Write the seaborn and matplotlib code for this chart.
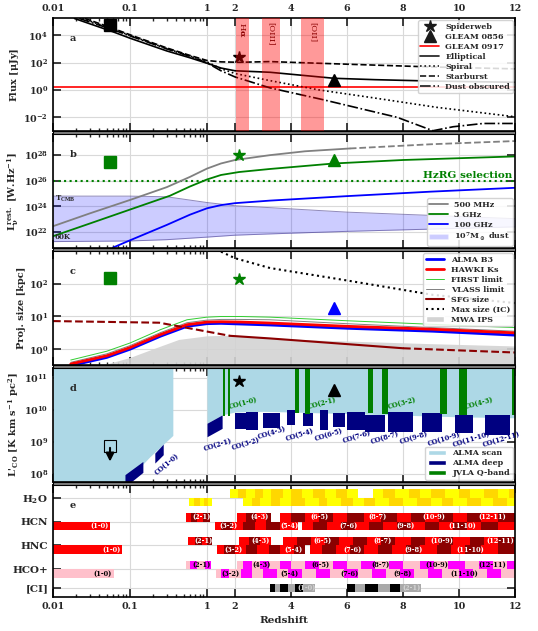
import numpy as np
import matplotlib
matplotlib.use('Agg')
import matplotlib.pyplot as plt
from matplotlib.patches import Patch, Rectangle
from matplotlib.lines import Line2D
import seaborn as sns

# ---------------- panel a : template fluxes (log10 uJy) ----------------
ell_z = [0.019, 0.06, 0.1, 0.3, 0.6, 1.0, 1.5, 2.0, 3.25, 4.5, 5.54, 7.0, 9.0, 12.0]
ell_f = [5.22, 4.25, 3.78, 2.85, 2.35, 1.95, 1.6, 1.4, 1.29, 1.05, 0.85, 0.75, 0.65, 0.56]
spi_z = [0.024, 0.06, 0.1, 0.3, 0.6, 1.0, 1.5, 2.0, 3.25, 5.0, 6.82, 9.2, 12.0]
spi_f = [5.22, 4.45, 3.98, 3.02, 2.48, 2.05, 1.55, 1.2, 0.68, 0.0, -0.54, -1.27, -1.96]
sb_z = [0.026, 0.06, 0.1, 0.3, 0.6, 1.0, 1.5, 2.16, 3.25, 6.0, 9.0, 12.0]
sb_f = [5.22, 4.5, 4.03, 3.07, 2.52, 2.15, 2.05, 2.02, 2.07, 1.88, 1.68, 1.54]
dust_z = [0.022, 0.06, 0.1, 0.3, 0.6, 1.0, 1.5, 2.0, 3.25, 5.14, 7.79, 9.07, 9.79, 10.86, 12.0]
dust_f = [5.22, 4.4, 3.95, 3.0, 2.45, 1.98, 1.4, 0.95, 0.15, -0.71, -2.0, -2.98, -2.69, -2.45, -2.45]
gleam0917_f = 0.22
lines_a = ['H$\\alpha$', '[OIII]', '[OII]']
lines_a_z = [(2.04, 2.5), (2.96, 3.6), (4.36, 5.18)]
# sources: square, Spiderweb, GLEAM 0856
src_z = [0.055, 2.16, 5.54]
src_fa = [4.78, 2.37, 0.72]

# ---------------- panel b : rest-frame luminosity (log10 W/Hz) ----------------
l500_z = [0.01, 0.03, 0.1, 0.3, 0.6, 1.0, 1.5, 2.0, 3.25, 4.5, 6.1]
l500_v = [22.45, 23.45, 24.5, 25.5, 26.3, 26.95, 27.35, 27.62, 28.0, 28.3, 28.52]
l500d_z = [6.1, 9.0, 12.0]
l500d_v = [28.52, 28.85, 29.1]
l3_z = [0.01, 0.03, 0.1, 0.33, 0.6, 1.0, 1.5, 2.14, 3.25, 5.54, 8.0, 12.0]
l3_v = [21.67, 22.66, 23.75, 24.83, 25.55, 26.1, 26.45, 26.68, 26.92, 27.35, 27.62, 27.9]
l100_z = [0.06, 0.1, 0.3, 0.6, 1.0, 1.5, 2.0, 3.25, 6.0, 9.0, 12.0]
l100_v = [20.78, 21.35, 22.55, 23.35, 23.85, 24.1, 24.25, 24.45, 24.8, 25.15, 25.45]
dust_band_z = [0.01, 0.1, 0.3, 1.0, 2.0, 3.25, 6.0, 12.0]
dust_band_hi = [24.8, 24.8, 24.75, 24.3, 24.05, 23.9, 23.55, 23.04]
dust_band_lo = [21.25, 21.3, 21.4, 21.6, 21.75, 21.85, 22.05, 22.4]
src_lb = [27.45, 28.0, 27.6]

# ---------------- panel c : projected size (log10 kpc) ----------------
sz_z = [0.017, 0.05, 0.1, 0.25, 0.55, 1.0, 1.5, 2.2, 3.25, 6.0, 9.07, 12.0]
alma_v = [-0.5, -0.25, 0.0, 0.4, 0.7, 0.78, 0.79, 0.77, 0.74, 0.64, 0.55, 0.43]
hawki_v = [-0.45, -0.2, 0.05, 0.45, 0.75, 0.83, 0.84, 0.83, 0.8, 0.7, 0.61, 0.5]
vlass_v = [-0.4, -0.14, 0.11, 0.51, 0.81, 0.89, 0.91, 0.91, 0.9, 0.78, 0.66, 0.55]
first_v = [-0.33, -0.06, 0.19, 0.6, 0.9, 0.98, 1.0, 1.0, 0.98, 0.87, 0.76, 0.66]
sfg_z = [0.01, 0.24, 1.0, 1.82, 3.25, 8.0, 12.0]
sfg_v = [0.86, 0.81, 0.54, 0.41, 0.33, 0.03, -0.1]
ic_z = [1.5, 2.0, 3.25, 6.0, 9.07, 12.0]
ic_v = [2.98, 2.78, 2.48, 2.1, 1.66, 1.41]
mwa_z = [0.045, 0.1, 0.22, 0.43, 1.0, 2.0, 3.25, 6.0, 9.0, 12.0]
mwa_v = [-0.48, -0.25, 0.05, 0.3, 0.41, 0.43, 0.33, 0.25, 0.17, 0.1]
src_sz = [2.17, 2.13, 1.26]

# ---------------- panel d : CO luminosity (log10 K km/s pc2) ----------------
scan_lo_z = [0.01, 0.086, 0.18, 0.36]
scan_lo_v = [5.5, 7.72, 8.53, 9.2]
scan_hi_z = [1.0, 1.54, 2.0, 3.0, 4.0, 6.0, 8.0, 10.0, 12.0]
scan_hi_v = [9.58, 9.84, 9.93, 9.95, 9.93, 9.88, 9.83, 9.78, 9.75]
deep_para = [([0.086, 0.147], [7.6, 8.05], [7.98, 8.39]),
             ([0.21, 0.27], [8.34, 8.6], [8.65, 8.93]),
             ([1.0, 1.54], [9.16, 9.42], [9.58, 9.84])]
deep_z0 = [2.0, 2.4, 3.0, 3.25, 3.86, 4.43, 5.04, 5.5, 6.0, 6.64, 7.46, 8.68, 9.86, 10.93]
deep_z1 = [2.4, 2.82, 3.25, 3.6, 4.14, 4.79, 5.32, 5.93, 6.64, 7.36, 8.36, 9.39, 10.5, 11.82]
deep_bot = [9.4, 9.37, 9.42, 9.42, 9.52, 9.48, 9.37, 9.45, 9.37, 9.32, 9.32, 9.32, 9.27, 9.22]
deep_top = [9.9, 9.93, 9.89, 9.89, 9.99, 9.89, 9.99, 9.89, 9.94, 9.84, 9.94, 9.89, 9.84, 9.84]
jvla_z0 = [1.57, 1.75, 4.14, 4.5, 6.75, 7.25, 9.32, 10.0, 11.9]
jvla_z1 = [1.64, 1.82, 4.27, 4.68, 6.93, 7.46, 9.57, 10.3, 12.07]
jvla_bot = [9.82, 9.82, 9.9, 9.88, 9.9, 9.87, 9.88, 9.85, 9.85]
co_deep_lab = ['CO(1-0)', 'CO(2-1)', 'CO(3-2)', 'CO(4-3)', 'CO(5-4)', 'CO(6-5)', 'CO(7-6)',
               'CO(8-7)', 'CO(9-8)', 'CO(10-9)', 'CO(11-10)', 'CO(12-11)']
co_deep_z = [0.3, 1.4, 2.4, 3.3, 4.3, 5.35, 6.35, 7.35, 8.4, 9.45, 10.45, 11.5]
co_deep_y = [8.3, 8.9, 8.95, 9.3, 9.22, 9.22, 9.16, 9.13, 9.13, 9.1, 9.08, 9.08]
co_jvla_lab = ['CO(1-0)', 'CO(2-1)', 'CO(3-2)', 'CO(4-3)']
co_jvla_z = [2.3, 5.1, 7.95, 10.7]
src_co = [8.88, 10.88, 10.6]

# ---------------- panel e : molecular line coverage ----------------
mol_names = ['H$_2$O', 'HCN', 'HNC', 'HCO+', '[CI]']
mol_pos = [4, 3, 2, 1, 0.2]
mol_cols = [('yellow', 'gold'), ('red', 'darkred'), ('red', 'darkred'),
            ('pink', 'magenta'), ('black', 'darkgray')]
h2o_up = [[1.82, 2.1, 2.4, 2.7, 3.0, 3.3, 3.7, 4.0, 4.4, 4.8, 5.2, 5.6, 6.0, 6.4],
          [6.93, 7.3, 7.7, 8.2, 8.6, 9.0, 9.5, 10.0, 10.4, 10.9, 11.4, 11.8, 12.0]]
h2o_lo = [[0.58, 0.68, 0.8, 0.92, 1.05, 1.18],
          [2.3, 2.6, 2.9, 3.3, 3.6, 4.0, 4.5, 5.0, 5.3, 5.8, 6.2, 6.6, 7.0, 7.5, 8.0,
           8.5, 9.0, 9.4, 9.8, 10.3, 10.8, 11.2, 11.7, 12.0]]
hcn_up = [[0.53, 0.62, 0.75, 0.9, 1.1], [2.07, 2.4, 2.75, 3.1, 3.3],
          [3.6, 4.0, 4.5, 5.0, 5.5, 6.0, 6.6, 7.2, 7.8, 8.3, 8.8, 9.3, 9.8, 10.3, 10.8, 11.4, 12.0]]
hcn_lo = [[0.01, 0.055], [1.29, 1.5, 1.9, 2.3, 2.7, 3.1, 3.6, 4.25],
          [4.4, 4.8, 5.3, 5.8, 6.3, 6.8, 7.3, 7.8, 8.3, 8.8, 9.3, 9.8, 10.3, 10.8, 11.4, 12.0]]
hnc_up = [[0.57, 0.7, 0.85, 1.0, 1.18], [2.14, 2.5, 2.9, 3.3],
          [3.7, 4.2, 4.7, 5.2, 5.7, 6.2, 6.7, 7.2, 7.7, 8.3, 8.8, 9.3, 9.8, 10.4, 10.9, 11.4, 12.0]]
hnc_lo = [[0.01, 0.079], [1.36, 1.6, 2.0, 2.4, 2.8, 3.2, 3.6, 4.1, 4.5],
          [4.68, 5.1, 5.6, 6.1, 6.6, 7.1, 7.6, 8.1, 8.6, 9.2, 9.7, 10.2, 10.8, 11.4, 12.0]]
hco_up = [[0.53, 0.6, 0.75, 0.95, 1.14],
          [2.07, 2.3, 2.6, 2.9, 3.2, 3.6, 4.0, 4.5, 5.0, 5.5, 6.0, 6.5, 7.0, 7.5, 8.0,
           8.6, 9.1, 9.6, 10.2, 10.7, 11.2, 11.7, 12.0]]
hco_lo = [[0.01, 0.062],
          [1.32, 1.5, 1.8, 2.2, 2.6, 3.0, 3.5, 3.9, 4.4, 4.9, 5.4, 5.9, 6.4, 6.9, 7.4,
           7.9, 8.4, 8.9, 9.4, 10.0, 10.5, 11.0, 11.5, 12.0]]
ci_row = [[3.25, 3.43, 3.6, 3.9, 4.14, 4.43, 4.86], [6.0, 6.3, 6.64, 7.1, 7.54, 7.9, 8.64]]
up_labels = ['(2-1)', '(4-3)', '(6-5)', '(8-7)', '(10-9)', '(12-11)']
lo_labels = ['(1-0)', '(3-2)', '(5-4)', '(7-6)', '(9-8)', '(11-10)']
hcn_up_lz = [0.85, 2.86, 5.0, 7.1, 9.1, 11.2]
hcn_lo_lz = [0.04, 1.75, 3.96, 6.07, 8.1, 10.1]
hnc_up_lz = [0.89, 2.9, 5.14, 7.25, 9.4, 11.46]
hnc_lo_lz = [0.058, 1.93, 4.07, 6.2, 8.36, 10.4]
hco_up_lz = [0.85, 2.96, 5.04, 7.18, 9.2, 11.2]
hco_lo_lz = [0.0446, 1.82, 3.96, 6.1, 8.0, 10.2]
ci_labels = ['(1-0)', '(2-1)']
ci_lz = [4.54, 8.3]

xticks = [0.01, 0.1, 1, 2, 4, 6, 8, 10, 12]

# ---------------------------------------------------------------
sns.set_theme(style='ticks')
plt.rcParams['font.family'] = ['DejaVu Serif']
plt.rcParams['font.weight'] = 'bold'
plt.rcParams['axes.labelweight'] = 'bold'
plt.rcParams['mathtext.fontset'] = 'dejavuserif'
plt.rcParams['mathtext.default'] = 'bf'

# log below z=1, linear above
K = 28.0 / 77.0


def fwd(z):
    z = np.asarray(z, dtype=float)
    zc = np.clip(z, 1e-12, None)
    return np.where(z < 1, np.log10(zc), (z - 1) * K)


def inv(u):
    u = np.asarray(u, dtype=float)
    return np.where(u < 0, 10 ** np.minimum(u, 0), 1 + u / K)


def p10(v):
    return 10 ** np.asarray(v, dtype=float)


def line(ax, z, v, **kw):
    sns.lineplot(x=z, y=p10(v), ax=ax, sort=False, estimator=None, legend=False, **kw)


fig = plt.figure(figsize=(5.38, 6.31), dpi=100)
L, W = 53 / 538, 462 / 538
boxes = [(18, 131), (134, 248), (251, 365), (368, 482), (485, 597)]
axes = []
for t, b in boxes:
    axes.append(fig.add_axes([L, 1 - b / 631, W, (b - t) / 631]))
# grey separators between stacked panels
for (t0, b0), (t1, b1) in zip(boxes[:-1], boxes[1:]):
    fig.add_artist(Rectangle((L, 1 - t1 / 631), W, (t1 - b0) / 631, transform=fig.transFigure,
                             facecolor='grey', edgecolor='black', lw=0.8))

minor = [0.02, 0.03, 0.04, 0.05, 0.06, 0.07, 0.08, 0.09,
         0.2, 0.3, 0.4, 0.5, 0.6, 0.7, 0.8, 0.9]
for i, ax in enumerate(axes):
    ax.set_xscale('function', functions=(fwd, inv))
    ax.set_xlim(0.01, 12)
    ax.set_xticks(xticks)
    ax.set_xticks(minor, minor=True)
    ax.set_xticklabels([str(t) for t in xticks])
    ax.tick_params(axis='both', which='both', direction='in', top=True, right=True,
                   labelsize=6.8, labelbottom=(i == 4), labeltop=(i == 0))
    ax.tick_params(which='minor', length=2)
    ax.grid(True, which='major', color='#d9d9d9', lw=0.8)
    ax.set_axisbelow(True)
    for s in ax.spines.values():
        s.set_linewidth(1.2)
        s.set_color('black')
    ax.text(0.037, 0.82, 'abcde'[i], transform=ax.transAxes, fontsize=7,
            fontweight='bold', va='center')

# ---- panel a ----
ax = axes[0]
ax.set_yscale('log')
ax.set_ylim(1e-3, 1.8e5)
ax.set_yticks([1e-2, 1e0, 1e2, 1e4])
ax.yaxis.set_minor_locator(matplotlib.ticker.NullLocator())
for (z0, z1), lab in zip(lines_a_z, lines_a):
    ax.axvspan(z0, z1, color='red', alpha=0.4, lw=0, zorder=5)
    ax.text((z0 + z1) / 2, 10 ** 4.95, lab, rotation=270, color='darkred', fontsize=6,
            fontweight='normal', ha='center', va='top', zorder=6)
ax.axhline(10 ** gleam0917_f, color='red', lw=1.2)
line(ax, ell_z, ell_f, color='black', lw=1.2)
line(ax, spi_z, spi_f, color='black', lw=1.2, linestyle=':')
line(ax, sb_z, sb_f, color='black', lw=1.2, linestyle='--')
line(ax, dust_z, dust_f, color='black', lw=1.2, linestyle='-.')
ax.plot(src_z[0], p10(src_fa[0]), 's', color='black', ms=8)
ax.plot(src_z[1], p10(src_fa[1]), '*', color='black', ms=9)
ax.plot(src_z[2], p10(src_fa[2]), '^', color='black', ms=8)
ax.set_ylabel('Flux [$\\mu$Jy]', fontsize=7, labelpad=2)
h = [Line2D([], [], color='k', marker='*', ls='', ms=9, label='Spiderweb'),
     Line2D([], [], color='k', marker='^', ls='', ms=9, label='GLEAM 0856'),
     Line2D([], [], color='red', lw=1.2, label='GLEAM 0917'),
     Line2D([], [], color='k', lw=1.2, label='Elliptical'),
     Line2D([], [], color='k', lw=1.2, ls=':', label='Spiral'),
     Line2D([], [], color='k', lw=1.2, ls='--', label='Starburst'),
     Line2D([], [], color='k', lw=1.2, ls='-.', label='Dust obscured')]
lg = ax.legend(handles=h, loc='upper right', fontsize=5.8, labelspacing=0.25,
               handlelength=2.3, borderpad=0.3, borderaxespad=0.3, framealpha=0.85)
lg.set_zorder(10)

# ---- panel b ----
ax = axes[1]
ax.set_yscale('log')
ax.set_ylim(10 ** 20.75, 10 ** 29.65)
ax.set_yticks(p10([22, 24, 26, 28]))
ax.yaxis.set_minor_locator(matplotlib.ticker.NullLocator())
ax.fill_between(dust_band_z, p10(dust_band_lo), p10(dust_band_hi), color='blue',
                alpha=0.2, lw=0)
line(ax, dust_band_z, dust_band_hi, color='darkslateblue', lw=0.7, alpha=0.6)
line(ax, dust_band_z, dust_band_lo, color='darkslateblue', lw=0.7, alpha=0.6)
ax.axhline(1e26, color='green', lw=1.5, ls=':')
ax.text(11.9, 10 ** 26.05, 'HzRG selection', color='green', fontsize=7.5,
        fontweight='bold', ha='right', va='bottom')
line(ax, l500_z, l500_v, color='grey', lw=1.3)
line(ax, l500d_z, l500d_v, color='grey', lw=1.3, linestyle='--')
line(ax, l3_z, l3_v, color='green', lw=1.3)
line(ax, l100_z, l100_v, color='blue', lw=1.3)
ax.plot(src_z[0], p10(src_lb[0]), 's', color='green', ms=8)
ax.plot(src_z[1], p10(src_lb[1]), '*', color='green', ms=9)
ax.plot(src_z[2], p10(src_lb[2]), '^', color='green', ms=8)
ax.text(0.0105, 10 ** 24.55, 'T$_{\\rm CMB}$', fontsize=5, va='center')
ax.text(0.0105, 10 ** 21.6, '60K', fontsize=5, va='center')
ax.set_ylabel('L$_\\nu^{\\rm rest.}$ [W.Hz$^{-1}$]', fontsize=7, labelpad=2)
h = [Line2D([], [], color='grey', lw=1.3, label='500 MHz'),
     Line2D([], [], color='green', lw=1.3, label='3 GHz'),
     Line2D([], [], color='blue', lw=1.3, label='100 GHz'),
     Patch(facecolor='blue', alpha=0.2, label='10$^7$M$_\\odot$ dust')]
ax.legend(handles=h, loc='lower right', fontsize=5.8, labelspacing=0.25,
          handlelength=2.3, borderpad=0.3, borderaxespad=0.3, framealpha=0.85)

# ---- panel c ----
ax = axes[2]
ax.set_yscale('log')
ax.set_ylim(0.33, 1000)
ax.set_yticks([1, 10, 100])
ax.yaxis.set_minor_locator(matplotlib.ticker.NullLocator())
ax.fill_between(mwa_z, 0.01, p10(mwa_v), color='lightgrey', alpha=0.9, lw=0)
line(ax, sz_z, first_v, color='limegreen', lw=0.7)
line(ax, sz_z, vlass_v, color='grey', lw=0.7)
line(ax, sz_z, alma_v, color='blue', lw=2)
line(ax, sz_z, hawki_v, color='red', lw=2)
line(ax, sfg_z[:4], sfg_v[:4], color='darkred', lw=1.5, linestyle='--')
line(ax, sfg_z[3:6], sfg_v[3:6], color='darkred', lw=1.5)
line(ax, sfg_z[5:], sfg_v[5:], color='darkred', lw=1.5, linestyle='--')
line(ax, ic_z, ic_v, color='black', lw=1.5, linestyle=':')
ax.plot(src_z[0], p10(src_sz[0]), 's', color='green', ms=8)
ax.plot(src_z[1], p10(src_sz[1]), '*', color='green', ms=9)
ax.plot(src_z[2], p10(src_sz[2]), '^', color='blue', ms=8)
ax.set_ylabel('Proj. size [kpc]', fontsize=7, labelpad=2)
h = [Line2D([], [], color='blue', lw=2, label='ALMA B3'),
     Line2D([], [], color='red', lw=2, label='HAWKI Ks'),
     Line2D([], [], color='limegreen', lw=0.7, label='FIRST limit'),
     Line2D([], [], color='grey', lw=0.7, label='VLASS limit'),
     Line2D([], [], color='darkred', lw=1.5, label='SFG size'),
     Line2D([], [], color='black', lw=1.5, ls=':', label='Max size (IC)'),
     Patch(facecolor='lightgrey', label='MWA IPS')]
lg = ax.legend(handles=h, loc='upper right', fontsize=5.8, labelspacing=0.25,
               handlelength=2.3, borderpad=0.3, borderaxespad=0.3, framealpha=0.85)
lg.set_zorder(10)

# ---- panel d ----
ax = axes[3]
ax.set_yscale('log')
ax.set_ylim(10 ** 7.75, 10 ** 11.3)
ax.set_yticks(p10([8, 9, 10, 11]))
ax.yaxis.set_minor_locator(matplotlib.ticker.NullLocator())
ax.fill_between(scan_lo_z, p10(scan_lo_v), 1e13, color='lightblue', lw=0)
ax.fill_between(scan_hi_z, p10(scan_hi_v), 1e13, color='lightblue', lw=0)
for zz, lo, hi in deep_para:
    ax.fill_between(zz, p10(lo), p10(hi), color='navy', lw=0)
ax.bar(deep_z0, p10(deep_top) - p10(deep_bot), bottom=p10(deep_bot),
       width=np.array(deep_z1) - np.array(deep_z0), align='edge', color='navy', lw=0)
ax.bar(jvla_z0, 1e13 - p10(jvla_bot), bottom=p10(jvla_bot),
       width=np.array(jvla_z1) - np.array(jvla_z0), align='edge', color='green', lw=0)
for lab, zz, yy in zip(co_deep_lab, co_deep_z, co_deep_y):
    rot = 40 if lab == 'CO(1-0)' else 17
    ax.text(zz, p10(yy), lab, color='navy', fontsize=4.8, rotation=rot,
            ha='center', va='center')
for lab, zz in zip(co_jvla_lab, co_jvla_z):
    ax.text(zz, 10 ** 10.2, lab, color='green', fontsize=4.8, rotation=15,
            ha='center', va='center')
ax.plot(src_z[0], p10(src_co[0]), 's', mfc='none', mec='black', ms=9, mew=0.8)
ax.annotate('', xy=(src_z[0], 10 ** 8.3), xytext=(src_z[0], 10 ** 8.9),
            arrowprops=dict(arrowstyle='-|>', color='black', lw=1.5))
ax.plot(src_z[1], p10(src_co[1]), '*', color='black', ms=9)
ax.plot(src_z[2], p10(src_co[2]), '^', color='black', ms=9)
ax.set_ylabel("L'$_{\\rm CO}$ [K km s$^{-1}$ pc$^2$]", fontsize=7, labelpad=2)
h = [Patch(facecolor='lightblue', label='ALMA scan'),
     Patch(facecolor='navy', label='ALMA deep'),
     Patch(facecolor='green', label='JVLA Q-band')]
ax.legend(handles=h, loc='lower right', fontsize=5.8, labelspacing=0.25,
          handlelength=2.3, borderpad=0.3, borderaxespad=0.3, framealpha=0.85)

# ---- panel e ----
ax = axes[4]
ax.set_ylim(-0.175, 4.54)
ax.set_yticks(mol_pos)
ax.set_yticklabels(mol_names, fontsize=7.5)
HB = 0.36


def draw_row(ax, segs, y0, cols, hgt=HB):
    for seg in segs:
        for k in range(len(seg) - 1):
            ax.barh(y0, seg[k + 1] - seg[k], left=seg[k], height=hgt, align='edge',
                    color=cols[k % 2], lw=0)


def draw_labels(ax, labs, zs, yc, col):
    for lab, zz in zip(labs, zs):
        ax.text(zz, yc, lab, fontsize=4.8, color=col, ha='center', va='center')


draw_row(ax, h2o_up, 4, mol_cols[0])
draw_row(ax, h2o_lo, 4 - HB, mol_cols[0])
draw_row(ax, hcn_up, 3, mol_cols[1])
draw_row(ax, hcn_lo, 3 - HB, mol_cols[1])
draw_row(ax, hnc_up, 2, mol_cols[2])
draw_row(ax, hnc_lo, 2 - HB, mol_cols[2])
draw_row(ax, hco_up, 1, mol_cols[3])
draw_row(ax, hco_lo, 1 - HB, mol_cols[3])
draw_row(ax, ci_row, 0.2 - 0.17, mol_cols[4], hgt=0.34)
draw_labels(ax, up_labels, hcn_up_lz, 3 + HB / 2, 'white')
draw_labels(ax, lo_labels, hcn_lo_lz, 3 - HB / 2, 'white')
draw_labels(ax, up_labels, hnc_up_lz, 2 + HB / 2, 'white')
draw_labels(ax, lo_labels, hnc_lo_lz, 2 - HB / 2, 'white')
draw_labels(ax, up_labels, hco_up_lz, 1 + HB / 2, 'black')
draw_labels(ax, lo_labels, hco_lo_lz, 1 - HB / 2, 'black')
draw_labels(ax, ci_labels, ci_lz, 0.2, 'lightgrey')
ax.set_xlabel('Redshift', fontsize=7.5, labelpad=4)

fig.savefig('out.png', dpi=100)
